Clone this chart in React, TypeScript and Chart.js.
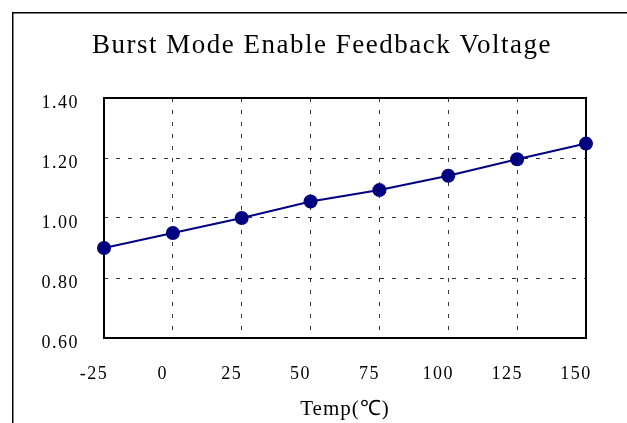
import React, { useEffect, useRef } from 'react';
import { Chart, registerables } from 'chart.js';

Chart.register(...registerables);

const categories = ['-25', '0', '25', '50', '75', '100', '125', '150'];
const voltage = [0.9, 0.95, 1.0, 1.055, 1.093, 1.141, 1.196, 1.248];
const yTicks = [0.6, 0.8, 1.0, 1.2, 1.4];
const chartTitle = 'Burst Mode Enable Feedback Voltage';
const xTitle = 'Temp(\u2103)';

const W = 627;
const H = 423;
const FONT = "'Liberation Serif', 'Times New Roman', serif";

const decorPlugin = {
  id: 'decor',
  beforeDraw(chart: any) {
    const ctx = chart.ctx;
    ctx.save();
    ctx.fillStyle = '#fff';
    ctx.fillRect(0, 0, W, H);
    ctx.strokeStyle = '#000';
    ctx.lineWidth = 1.5;
    ctx.strokeRect(12.75, 12.75, W + 20, H + 20);
    ctx.restore();
    (ctx as any).letterSpacing = '1.5px';
  },
  beforeDatasetsDraw(chart: any) {
    const { ctx, chartArea } = chart;
    ctx.save();
    ctx.strokeStyle = '#000';
    ctx.lineWidth = 2;
    ctx.setLineDash([]);
    ctx.strokeRect(chartArea.left, chartArea.top, chartArea.right - chartArea.left, chartArea.bottom - chartArea.top);
    ctx.restore();
  },
  afterDraw(chart: any) {
    const { ctx, chartArea } = chart;
    ctx.save();
    ctx.fillStyle = '#000';
    ctx.textAlign = 'center';
    ctx.textBaseline = 'alphabetic';
    (ctx as any).letterSpacing = '1.5px';
    ctx.font = `27px ${FONT}`;
    ctx.fillText(chartTitle, 322, 53);
    (ctx as any).letterSpacing = '1px';
    ctx.font = `21px ${FONT}`;
    ctx.textBaseline = 'middle';
    ctx.fillText(xTitle, (chartArea.left + chartArea.right) / 2, 409);
    ctx.restore();
  },
};

export default function App() {
  const ref = useRef<HTMLCanvasElement | null>(null);

  useEffect(() => {
    if (!ref.current) return;
    const chart = new Chart(ref.current, {
      type: 'line',
      data: {
        labels: categories,
        datasets: [
          {
            data: voltage,
            borderColor: '#000080',
            backgroundColor: '#000080',
            borderWidth: 2,
            pointRadius: 7,
            pointBorderWidth: 0,
            pointBackgroundColor: '#000080',
            tension: 0,
            clip: false as any,
          },
        ],
      },
      options: {
        responsive: false,
        animation: false,
        devicePixelRatio: 1,
        layout: { padding: { left: 0, top: 98, right: 41, bottom: 0 } },
        plugins: { legend: { display: false }, tooltip: { enabled: false }, title: { display: false } },
        scales: {
          x: {
            type: 'category',
            offset: false,
            afterFit: (s: any) => {
              s.height = 85;
            },
            grid: {
              offset: false,
              drawTicks: false,
              lineWidth: 1,
              color: (c: any) => (c.index === 0 || c.index === categories.length - 1 ? 'rgba(0,0,0,0)' : '#333'),
            },
            border: { display: false, dash: [4, 8] },
            ticks: {
              color: '#000',
              padding: 25,
              labelOffset: -10,
              maxRotation: 0,
              autoSkip: false,
              font: { family: FONT, size: 18 },
            },
          },
          y: {
            type: 'linear',
            min: yTicks[0],
            max: yTicks[yTicks.length - 1],
            afterFit: (s: any) => {
              s.width = 104;
            },
            afterBuildTicks: (s: any) => {
              s.ticks = yTicks.map((v) => ({ value: v }));
            },
            grid: {
              drawTicks: false,
              lineWidth: 1,
              color: (c: any) =>
                c.tick && (Math.abs(c.tick.value - yTicks[0]) < 1e-6 || Math.abs(c.tick.value - yTicks[yTicks.length - 1]) < 1e-6)
                  ? 'rgba(0,0,0,0)'
                  : '#333',
            },
            border: { display: false, dash: [4, 8] },
            ticks: {
              color: '#000',
              padding: 25,
              labelOffset: 5,
              font: { family: FONT, size: 18 },
              callback: (v: any) => Number(v).toFixed(2),
            },
          },
        },
      },
      plugins: [decorPlugin],
    });
    return () => chart.destroy();
  }, []);

  return (
    <div style={{ position: 'fixed', left: 0, top: 0, width: W, height: H, background: '#fff' }}>
      <canvas ref={ref} width={W} height={H} style={{ display: 'block', width: W, height: H }} />
    </div>
  );
}
